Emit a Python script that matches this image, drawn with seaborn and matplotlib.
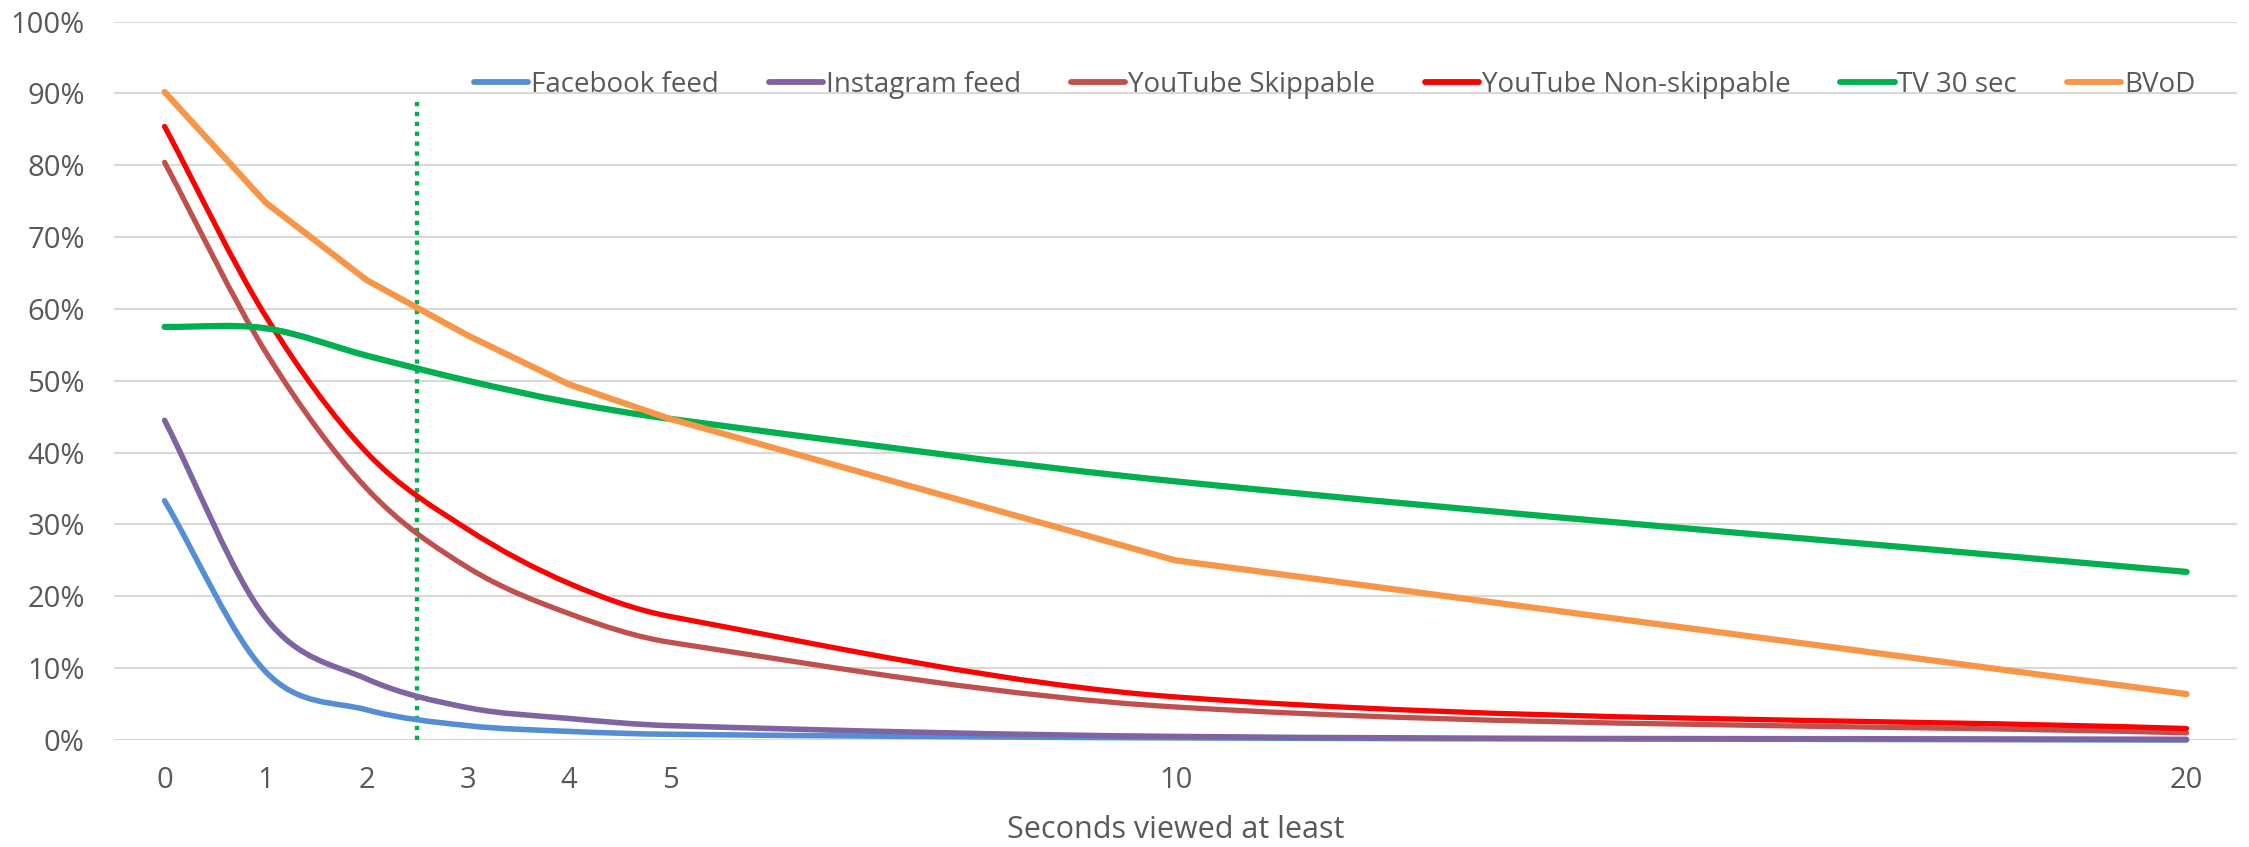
import numpy as np
import pandas as pd
import matplotlib
matplotlib.use("Agg")
import matplotlib.pyplot as plt
from matplotlib.path import Path
from matplotlib.patches import PathPatch
from matplotlib.lines import Line2D
from matplotlib.ticker import PercentFormatter
import seaborn as sns

# Seconds at which viewing share was measured
seconds = [0, 1, 2, 3, 4, 5, 10, 20]

# Share of viewers still watching (percent)
facebook_feed = [33.3, 9.5, 4.2, 2.0, 1.2, 0.8, 0.3, 0.0]
instagram_feed = [44.5, 17.0, 8.5, 4.5, 3.0, 2.0, 0.5, 0.1]
youtube_skippable = [80.4, 54.0, 35.0, 24.0, 17.6, 13.6, 4.6, 1.0]
youtube_non_skippable = [85.4, 59.0, 40.0, 29.3, 21.8, 17.2, 6.0, 1.6]
tv_30_sec = [57.5, 57.3, 53.5, 50.0, 47.0, 44.7, 36.0, 23.4]
bvod = [90.2, 74.8, 64.0, 56.3, 49.5, 44.7, 25.0, 6.4]

series_names = ["Facebook feed", "Instagram feed", "YouTube Skippable",
                "YouTube Non-skippable", "TV 30 sec", "BVoD"]
series_values = [facebook_feed, instagram_feed, youtube_skippable,
                 youtube_non_skippable, tv_30_sec, bvod]
colors = ["#558ED5", "#8064A2", "#C0504D", "#FF0000", "#00B050", "#F79646"]
widths = [4.0, 4.0, 3.8, 3.8, 4.5, 4.5]
smoothed = [True, True, True, True, True, False]

y_ticks = list(range(0, 101, 10))
x_ticks = [0, 1, 2, 3, 4, 5, 10, 20]
cutoff_second = 2.5
cutoff_top = 89

df = pd.DataFrame({
    "seconds": np.tile(seconds, len(series_names)),
    "share": np.concatenate(series_values),
    "series": np.repeat(series_names, len(seconds)),
})

sns.set_theme(style="white")
plt.rcParams["font.family"] = ["Open Sans", "DejaVu Sans"]

FS = 21
TEXT = "#595959"

fig = plt.figure(figsize=(22.49, 8.47), dpi=100)
ax = fig.add_axes([0.0507, 0.1263, 0.9440, 0.8483])

sns.lineplot(data=df, x="seconds", y="share", hue="series",
             hue_order=series_names, palette=colors, linewidth=4,
             legend=False, ax=ax, sort=False)


def smooth_path(xs, ys):
    """Cubic Hermite (Bezier) path through the points, x-monotone."""
    x = np.asarray(xs, float)
    y = np.asarray(ys, float)
    n = len(x)
    m = np.empty(n)
    m[0] = (y[1] - y[0]) / (x[1] - x[0])
    m[-1] = (y[-1] - y[-2]) / (x[-1] - x[-2])
    for i in range(1, n - 1):
        m[i] = (y[i + 1] - y[i - 1]) / (x[i + 1] - x[i - 1])
    verts = [(x[0], y[0])]
    codes = [Path.MOVETO]
    for i in range(n - 1):
        h = x[i + 1] - x[i]
        verts += [(x[i] + h / 3, y[i] + m[i] * h / 3),
                  (x[i + 1] - h / 3, y[i + 1] - m[i + 1] * h / 3),
                  (x[i + 1], y[i + 1])]
        codes += [Path.CURVE4] * 3
    return Path(verts, codes)


for k, (line, vals, col, lw, sm) in enumerate(
        zip(ax.lines, series_values, colors, widths, smoothed)):
    line.set_linewidth(lw)
    line.set_solid_capstyle("round")
    line.set_solid_joinstyle("round")
    line.set_clip_on(False)
    line.set_zorder(3 + k * 0.01)
    if sm:
        line.set_visible(False)
        patch = PathPatch(smooth_path(seconds, vals), facecolor="none",
                          edgecolor=col, linewidth=lw, capstyle="round",
                          joinstyle="round", transform=ax.transData,
                          clip_on=False, zorder=3 + k * 0.01)
        ax.add_patch(patch)

# dotted cut-off marker
ax.plot([cutoff_second, cutoff_second], [0, cutoff_top], color="#00B050",
        linestyle=(0, (1, 1.3)), dash_capstyle="butt", linewidth=3.1,
        zorder=2.5, clip_on=False)

ax.set_xlim(-0.5, 20.5)
ax.set_ylim(0, 100)
ax.set_xticks(x_ticks)
ax.set_xticklabels([str(t) for t in x_ticks])
ax.set_yticks(y_ticks)
ax.yaxis.set_major_formatter(PercentFormatter(decimals=0))
ax.grid(axis="y", color="#D9D9D9", linewidth=1.5)
ax.grid(axis="x", visible=False)
for s in ax.spines.values():
    s.set_visible(False)
ax.tick_params(axis="both", length=0, labelsize=FS, colors=TEXT)
ax.tick_params(axis="x", pad=19)
ax.tick_params(axis="y", pad=21)
ax.set_xlabel("Seconds viewed at least", fontsize=22, color=TEXT,
              labelpad=14)
ax.set_ylabel("")

handles = [Line2D([0], [0], color=c, linewidth=4.2, solid_capstyle="round")
           for c in colors]
ax.legend(handles, series_names, ncol=6, loc="center", frameon=False,
          bbox_to_anchor=(0.575, 0.912), fontsize=20, labelcolor=TEXT,
          handlelength=1.95, handletextpad=0.1, columnspacing=1.8,
          borderpad=0, borderaxespad=0)

fig.savefig("out.png", dpi=100)
